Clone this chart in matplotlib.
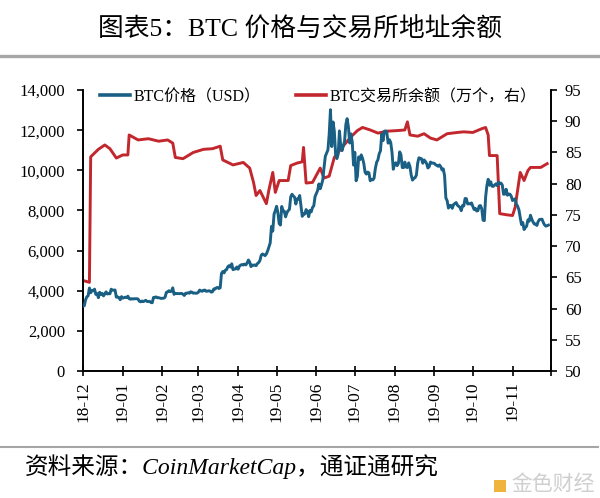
import matplotlib
matplotlib.use("Agg")
import matplotlib.pyplot as plt
from matplotlib.ticker import FuncFormatter, MultipleLocator
from matplotlib.lines import Line2D
from matplotlib.patches import Rectangle
import pandas as pd

plt.rcParams['font.family'] = ['Liberation Serif', 'Noto Sans CJK SC']

# ---------------- data ----------------
btc_start = "2018-12-15"
btc_price = [
    # 2018-12-15 .. 12-31
    3236, 3252, 3545, 3696, 3745, 4134, 3896, 4014, 3998, 4078, 3815, 3857, 3654, 3923, 3820, 3865, 3742,
    # 2019-01
    3843, 3943, 3836, 3858, 3845, 4076, 4025, 4030, 4035, 3678, 3687, 3661, 3552, 3706, 3630, 3655,
    3678, 3657, 3728, 3601, 3576, 3604, 3585, 3600, 3599, 3602, 3583, 3470, 3448, 3486, 3457,
    # 2019-02
    3487, 3521, 3464, 3459, 3466, 3413, 3399, 3666, 3671, 3690, 3648, 3653, 3633, 3616, 3620, 3629,
    3673, 3915, 3947, 3999, 3955, 3974, 4143, 3819, 3874, 3855, 3860, 3854,
    # 2019-03
    3859, 3865, 3824, 3764, 3873, 3877, 3897, 3877, 3947, 3924, 3876, 3885, 3874, 3879, 3925, 4032,
    3986, 3973, 4021, 4032, 3971, 3979, 3997, 3989, 3930, 3949, 4090, 4083, 4149, 4161, 4107,
    # 2019-04
    4150, 4857, 4955, 4888, 5023, 5051, 5200, 5252, 5177, 5340, 5048, 5079, 5083, 5183, 5070, 5226,
    5277, 5304, 5280, 5325, 5284, 5381, 5529, 5432, 5200, 5279, 5268, 5285, 5247, 5351,
    # 2019-05
    5402, 5505, 5768, 5831, 5795, 5746, 5829, 5982, 6174, 6378, 7204, 6972, 7815, 7994, 8205, 7884,
    7344, 7271, 8197, 7978, 7963, 7680, 7881, 7987, 8052, 8673, 8805, 8719, 8659, 8319, 8574,
    # 2019-06
    8564, 8742, 8208, 7707, 7824, 7822, 8043, 7954, 7688, 8000, 7927, 8145, 8230, 8693, 8838, 8994,
    9320, 9081, 9273, 9527, 10144, 10701, 10855, 11011, 11790, 13016, 11182, 12407, 11959, 10817,
    # 2019-07
    10583, 10801, 11961, 11215, 10978, 11208, 11450, 12285, 12573, 12156, 11358, 11815, 11392, 10256,
    10895, 9477, 9693, 10666, 10530, 10767, 10599, 10343, 9900, 9811, 9911, 9870, 9477, 9552, 9519,
    9607, 10085,
    # 2019-08
    10399, 10518, 10821, 10970, 11805, 11478, 11941, 11966, 11862, 11354, 11523, 11382, 10895, 10051,
    10311, 10374, 10231, 10345, 10918, 10764, 10138, 10131, 10407, 10159, 10138, 10370, 10185, 9754,
    9510, 9598, 9630,
    # 2019-09
    9757, 10346, 10623, 10594, 10575, 10353, 10517, 10441, 10334, 10115, 10178, 10410, 10360, 10358,
    10347, 10276, 10241, 10198, 10266, 10181, 10019, 10070, 9729, 8620, 8486, 8118, 8251, 8245, 8104, 8293,
    # 2019-10
    8343, 8393, 8259, 8205, 8151, 7988, 8245, 8228, 8595, 8586, 8321, 8336, 8321, 8374, 8205, 8047,
    8103, 7973, 7988, 8222, 8243, 8078, 7514, 7493, 8660, 9244, 9551, 9256, 9427, 9205, 9199,
    # 2019-11
    9261, 9324, 9235, 9412, 9342, 9360, 9267, 8804, 8813, 9055, 8757, 8815, 8808, 8708, 8491, 8550,
    8577, 8309, 8206, 8027, 7642, 7296, 7397, 7047, 7146, 7218, 7531, 7463, 7761, 7569,
    # 2019-12-01 .. 12-13
    7424, 7321, 7320, 7252, 7448, 7546, 7556, 7564, 7400, 7278, 7217, 7243, 7269,
]

balance_dates = [
    "2018-12-15", "2018-12-20", "2018-12-21", "2018-12-27", "2019-01-01", "2019-01-05", "2019-01-10",
    "2019-01-15", "2019-01-19", "2019-01-20", "2019-01-27", "2019-02-04", "2019-02-12", "2019-02-19",
    "2019-02-23", "2019-02-25", "2019-03-03", "2019-03-11", "2019-03-19", "2019-03-26", "2019-04-01",
    "2019-04-03", "2019-04-11", "2019-04-19", "2019-04-24", "2019-04-27", "2019-04-29", "2019-05-02",
    "2019-05-07", "2019-05-09", "2019-05-12", "2019-05-14", "2019-05-17", "2019-05-24", "2019-05-26",
    "2019-05-31", "2019-06-04", "2019-06-05", "2019-06-07", "2019-06-12", "2019-06-18", "2019-06-21",
    "2019-06-25", "2019-06-29", "2019-07-05", "2019-07-12", "2019-07-17", "2019-07-21", "2019-07-27",
    "2019-08-02", "2019-08-09", "2019-08-17", "2019-08-23", "2019-08-25", "2019-08-27", "2019-09-02",
    "2019-09-07", "2019-09-12", "2019-09-17", "2019-09-25", "2019-10-03", "2019-10-08", "2019-10-15",
    "2019-10-22", "2019-10-25", "2019-10-27", "2019-10-28", "2019-11-03", "2019-11-05", "2019-11-11",
    "2019-11-15", "2019-11-17", "2019-11-21", "2019-11-24", "2019-11-27", "2019-11-29", "2019-12-07",
    "2019-12-12",
]
balance_values = [
    64.5, 64.2, 84.3, 85.5, 86.2, 85.6, 84.1,
    84.6, 84.6, 87.8, 87.0, 87.2, 86.8, 87.0,
    86.5, 84.2, 84.0, 85.0, 85.5, 85.6, 86.0,
    83.8, 83.0, 83.4, 82.5, 80.2, 78.1, 78.9,
    76.8, 79.0, 81.8, 78.6, 80.5, 80.5, 82.9,
    83.3, 83.5, 85.8, 80.1, 80.2, 82.5, 80.9,
    81.2, 84.2, 85.8, 87.5, 88.5, 89.0, 88.6,
    88.1, 88.4, 88.5, 88.6, 89.9, 87.8, 87.6,
    88.0, 87.3, 87.0, 88.0, 88.2, 88.3, 88.2,
    88.8, 89.0, 87.8, 84.5, 84.5, 75.2, 75.0,
    74.9, 76.2, 81.8, 80.5, 82.1, 82.6, 82.6,
    83.2,
]

tick_months = ["2018-12-15", "2019-01-15", "2019-02-15", "2019-03-15", "2019-04-15", "2019-05-15",
               "2019-06-15", "2019-07-15", "2019-08-15", "2019-09-15", "2019-10-15", "2019-11-15"]
tick_labels = ["18-12", "19-01", "19-02", "19-03", "19-04", "19-05",
               "19-06", "19-07", "19-08", "19-09", "19-10", "19-11"]

title = "图表5：BTC 价格与交易所地址余额"
label_price = "BTC价格（USD）"
label_balance = "BTC交易所余额（万个，右）"
source = "资料来源：CoinMarketCap，通证通研究"

# ---------------- figure ----------------
W, H = 600, 498
fig = plt.figure(figsize=(W / 100, H / 100), dpi=100)

def fx(px):
    return px / W

def fy(py):
    return 1 - py / H

blue = "#1a5f84"
red = "#c1272d"

ax = fig.add_axes([fx(83), fy(371), fx(551) - fx(83), fy(90) - fy(371)])
ax2 = ax.twinx()

btc_dates = pd.date_range(btc_start, periods=len(btc_price), freq="D")
ax.plot(btc_dates, btc_price, color=blue, lw=2.1, solid_joinstyle="round", zorder=3)
ax2.plot(pd.to_datetime(balance_dates), balance_values, color=red, lw=2.1,
         solid_joinstyle="round", zorder=3)

ax.set_zorder(ax2.get_zorder() + 1)
ax.patch.set_visible(False)

ax.set_xlim(pd.Timestamp("2018-12-15"), pd.Timestamp("2019-12-15"))
ax.set_ylim(0, 14000)
ax2.set_ylim(50, 95)

ax.yaxis.set_major_locator(MultipleLocator(2000))
ax.yaxis.set_major_formatter(FuncFormatter(lambda v, p: f"{int(v):,}"))
ax2.yaxis.set_major_locator(MultipleLocator(5))

ax.set_xticks(pd.to_datetime(tick_months + ["2019-12-15"]))
ax.set_xticklabels(tick_labels + [""], rotation=90)

for a in (ax, ax2):
    a.spines["top"].set_visible(False)
    for s in a.spines.values():
        s.set_linewidth(1.2)
        s.set_color("black")

ax.tick_params(axis="y", direction="out", length=4, width=1.2, pad=9, labelsize=12)
ax2.tick_params(axis="y", direction="out", length=4, width=1.2, pad=6, labelsize=12)
ax.tick_params(axis="x", direction="inout", length=7, width=1.2, pad=4, labelsize=12.5)
ax2.tick_params(axis="x", length=0)

# legend
handles = [Line2D([], [], color=blue, lw=2.6), Line2D([], [], color=red, lw=2.6)]
fig.legend(handles, [label_price, label_balance], loc="upper left",
           bbox_to_anchor=(fx(100), fy(89)), ncol=2, frameon=False,
           fontsize=11.5, handlelength=1.9, handletextpad=0.2, columnspacing=2.2,
           borderpad=0, borderaxespad=0)

# title + separators
fig.text(0.5, fy(30), title, ha="center", va="center", fontsize=18.5)
fig.add_artist(Line2D([0, fx(598)], [fy(56), fy(56)], color="#a6a6a6", lw=2.4,
                      transform=fig.transFigure))
fig.add_artist(Line2D([0, fx(598)], [fy(447), fy(447)], color="#a6a6a6", lw=1.5,
                      transform=fig.transFigure))
fig.text(fx(25), fy(467), source, ha="left", va="center", fontsize=17, style="italic")

# bottom-right logo mark
fig.add_artist(Rectangle((fx(494), fy(492)), fx(12), fx(12) * W / H, transform=fig.transFigure,
                         facecolor="#f0b43c", edgecolor="none"))
fig.text(fx(511), fy(485), "金色财经", ha="left", va="center", fontsize=15, color="#cfcfcf")

fig.savefig("out.png", dpi=100)
